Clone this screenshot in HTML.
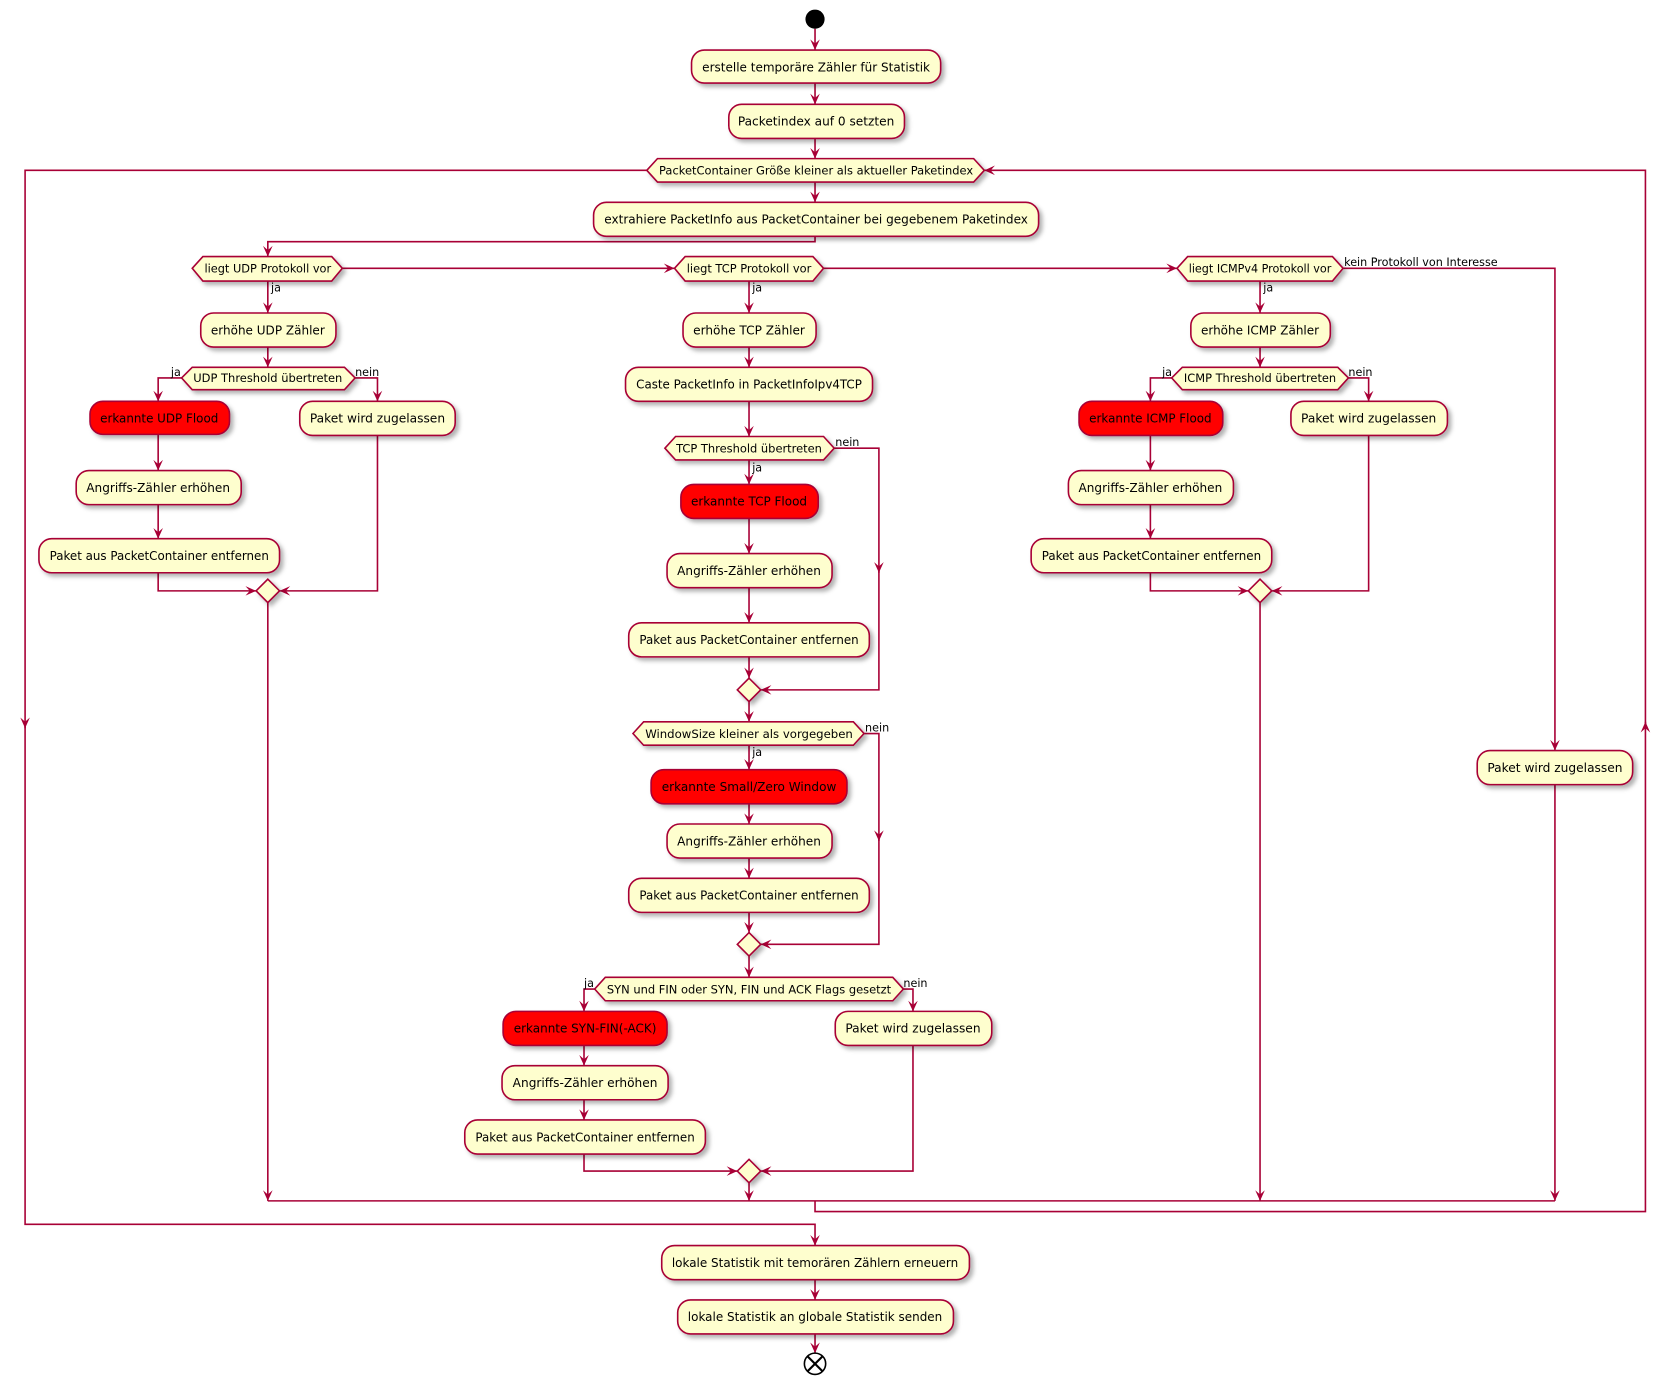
<!DOCTYPE html>
<html><head><meta charset="utf-8"><style>
html,body{margin:0;padding:0;background:#fff;}
svg{display:block;}
text{font-family:"DejaVu Sans","Liberation Sans",sans-serif;fill:#000;}
</style></head><body>
<svg width="1662" height="1384" viewBox="0 0 1560 1300" xmlns="http://www.w3.org/2000/svg">
<defs>
<marker id="a" markerUnits="userSpaceOnUse" markerWidth="12" markerHeight="10" viewBox="-11 -5 12 10" refX="0" refY="0" orient="auto">
<path d="M-10,-4.5 L0,0 L-10,4.5 L-6,0 Z" fill="#A80036"/></marker>
<filter id="s" x="-10%" y="-20%" width="130%" height="160%"><feDropShadow dx="3" dy="3" stdDeviation="2" flood-color="#000" flood-opacity="0.3"/></filter>
</defs>
<g fill="none" stroke="#A80036" stroke-width="1.5">
<!-- main flow -->
<path d="M765,27 V47" marker-end="url(#a)"/>
<path d="M765,78 V98" marker-end="url(#a)"/>
<path d="M765,130 V149" marker-end="url(#a)"/>
<path d="M765,171 V190" marker-end="url(#a)"/>
<path d="M765,222 V227 H251 V241" marker-end="url(#a)"/>
<path d="M321,252 H633" marker-end="url(#a)"/>
<path d="M773,252 H1105" marker-end="url(#a)"/>
<path d="M1261,252 H1460 V705" marker-end="url(#a)"/>
<path d="M1460,737 V1128" marker-end="url(#a)"/>
<!-- UDP -->
<path d="M251,264 V294" marker-end="url(#a)"/>
<path d="M251,326 V345" marker-end="url(#a)"/>
<path d="M170,355 H148 V377" marker-end="url(#a)"/>
<path d="M333,355 H354 V377" marker-end="url(#a)"/>
<path d="M148,408 V442" marker-end="url(#a)"/>
<path d="M148,474 V506" marker-end="url(#a)"/>
<path d="M148,538 V555 H240" marker-end="url(#a)"/>
<path d="M354,409 V555 H262" marker-end="url(#a)"/>
<path d="M251,566 V1128" marker-end="url(#a)"/>
<!-- TCP -->
<path d="M703,264 V294" marker-end="url(#a)"/>
<path d="M703,326 V345" marker-end="url(#a)"/>
<path d="M703,377 V410" marker-end="url(#a)"/>
<path d="M703,432 V455" marker-end="url(#a)"/>
<path d="M703,487 V520" marker-end="url(#a)"/>
<path d="M703,552 V585" marker-end="url(#a)"/>
<path d="M703,617 V637" marker-end="url(#a)"/>
<path d="M783,421 H825 V538" marker-end="url(#a)"/>
<path d="M825,536 V648 H714" marker-end="url(#a)"/>
<path d="M703,659 V678" marker-end="url(#a)"/>
<path d="M703,700 V723" marker-end="url(#a)"/>
<path d="M703,755 V774" marker-end="url(#a)"/>
<path d="M703,806 V825" marker-end="url(#a)"/>
<path d="M703,857 V876" marker-end="url(#a)"/>
<path d="M811,689 H825 V790" marker-end="url(#a)"/>
<path d="M825,788 V887 H714" marker-end="url(#a)"/>
<path d="M703,898 V918" marker-end="url(#a)"/>
<path d="M558,929 H548 V950" marker-end="url(#a)"/>
<path d="M848,929 H857 V950" marker-end="url(#a)"/>
<path d="M548,982 V1001" marker-end="url(#a)"/>
<path d="M548,1033 V1052" marker-end="url(#a)"/>
<path d="M548,1084 V1100 H692" marker-end="url(#a)"/>
<path d="M857,982 V1100 H714" marker-end="url(#a)"/>
<path d="M703,1111 V1128" marker-end="url(#a)"/>
<!-- ICMP -->
<path d="M1183,264 V294" marker-end="url(#a)"/>
<path d="M1183,326 V345" marker-end="url(#a)"/>
<path d="M1100,355 H1080 V377" marker-end="url(#a)"/>
<path d="M1266,355 H1285 V377" marker-end="url(#a)"/>
<path d="M1080,409 V442" marker-end="url(#a)"/>
<path d="M1080,474 V506" marker-end="url(#a)"/>
<path d="M1080,538 V555 H1172" marker-end="url(#a)"/>
<path d="M1285,409 V555 H1194" marker-end="url(#a)"/>
<path d="M1183,566 V1128" marker-end="url(#a)"/>
<!-- merge + loop -->
<path d="M251,1128 H1460"/>
<path d="M765,1128 V1138 H1545 V678" marker-end="url(#a)"/>
<path d="M1545,680 V160 H924" marker-end="url(#a)"/>
<path d="M607,160 H23 V684" marker-end="url(#a)"/>
<path d="M23,682 V1150 H765 V1170" marker-end="url(#a)"/>
<path d="M765,1202 V1221" marker-end="url(#a)"/>
<path d="M765,1253 V1271" marker-end="url(#a)"/>
</g>

<!-- start / end -->
<circle cx="765" cy="18" r="9" fill="#000"/>
<g stroke="#000" stroke-width="1.5"><circle cx="765" cy="1281" r="10" fill="#fff"/>
<path d="M758,1274 L772,1288 M772,1274 L758,1288" stroke-width="2"/></g>

<!-- boxes -->
<g stroke="#A80036" stroke-width="1.5" filter="url(#s)">
<rect x="649" y="47" width="234" height="31" rx="12" fill="#FEFECE"/>
<rect x="684" y="98" width="165" height="32" rx="12" fill="#FEFECE"/>
<rect x="557" y="190" width="418" height="32" rx="12" fill="#FEFECE"/>
<rect x="188" y="294" width="127" height="32" rx="12" fill="#FEFECE"/>
<rect x="84" y="377" width="131" height="31" rx="12" fill="#FF0000"/>
<rect x="281" y="377" width="146" height="32" rx="12" fill="#FEFECE"/>
<rect x="71" y="442" width="155" height="32" rx="12" fill="#FEFECE"/>
<rect x="36" y="506" width="226" height="32" rx="12" fill="#FEFECE"/>
<rect x="641" y="294" width="125" height="32" rx="12" fill="#FEFECE"/>
<rect x="587" y="345" width="232" height="32" rx="12" fill="#FEFECE"/>
<rect x="639" y="455" width="129" height="32" rx="12" fill="#FF0000"/>
<rect x="626" y="520" width="155" height="32" rx="12" fill="#FEFECE"/>
<rect x="590" y="585" width="226" height="32" rx="12" fill="#FEFECE"/>
<rect x="611" y="723" width="184" height="32" rx="12" fill="#FF0000"/>
<rect x="626" y="774" width="155" height="32" rx="12" fill="#FEFECE"/>
<rect x="590" y="825" width="226" height="32" rx="12" fill="#FEFECE"/>
<rect x="472" y="950" width="154" height="32" rx="12" fill="#FF0000"/>
<rect x="784" y="950" width="147" height="32" rx="12" fill="#FEFECE"/>
<rect x="471" y="1001" width="156" height="32" rx="12" fill="#FEFECE"/>
<rect x="436" y="1052" width="226" height="32" rx="12" fill="#FEFECE"/>
<rect x="1118" y="294" width="131" height="32" rx="12" fill="#FEFECE"/>
<rect x="1013" y="377" width="135" height="32" rx="12" fill="#FF0000"/>
<rect x="1212" y="377" width="147" height="32" rx="12" fill="#FEFECE"/>
<rect x="1003" y="442" width="155" height="32" rx="12" fill="#FEFECE"/>
<rect x="968" y="506" width="226" height="32" rx="12" fill="#FEFECE"/>
<rect x="1387" y="705" width="146" height="32" rx="12" fill="#FEFECE"/>
<rect x="621" y="1170" width="289" height="32" rx="12" fill="#FEFECE"/>
<rect x="636" y="1221" width="259" height="32" rx="12" fill="#FEFECE"/>
<!-- hexagons -->
<polygon points="607,160 617,149 914,149 924,160 914,171 617,171" fill="#FEFECE"/>
<polygon points="180,252 190,241 311,241 321,252 311,264 190,264" fill="#FEFECE"/>
<polygon points="633,252 643,241 763,241 773,252 763,264 643,264" fill="#FEFECE"/>
<polygon points="1105,252 1115,241 1251,241 1261,252 1251,264 1115,264" fill="#FEFECE"/>
<polygon points="170,355 180,345 323,345 333,355 323,366 180,366" fill="#FEFECE"/>
<polygon points="1100,355 1110,345 1256,345 1266,355 1256,366 1110,366" fill="#FEFECE"/>
<polygon points="624,421 634,410 773,410 783,421 773,432 634,432" fill="#FEFECE"/>
<polygon points="594,689 604,678 801,678 811,689 801,700 604,700" fill="#FEFECE"/>
<polygon points="558,929 568,918 838,918 848,929 838,940 568,940" fill="#FEFECE"/>
<!-- diamonds -->
<polygon points="251,544 262,555 251,566 240,555" fill="#FEFECE"/>
<polygon points="1183,544 1194,555 1183,566 1172,555" fill="#FEFECE"/>
<polygon points="703,637 714,648 703,659 692,648" fill="#FEFECE"/>
<polygon points="703,876 714,887 703,898 692,887" fill="#FEFECE"/>
<polygon points="703,1089 714,1100 703,1111 692,1100" fill="#FEFECE"/>
</g>

<!-- box texts -->
<g font-size="11.5" text-anchor="middle" lengthAdjust="spacingAndGlyphs">
<text x="766" y="67" textLength="214" lengthAdjust="spacingAndGlyphs">erstelle temporäre Zähler für Statistik</text>
<text x="766" y="118" textLength="147" lengthAdjust="spacingAndGlyphs">Packetindex auf 0 setzten</text>
<text x="766" y="210" textLength="398" lengthAdjust="spacingAndGlyphs">extrahiere PacketInfo aus PacketContainer bei gegebenem Paketindex</text>
<text x="251" y="314" textLength="107" lengthAdjust="spacingAndGlyphs">erhöhe UDP Zähler</text>
<text x="149" y="397" textLength="111" lengthAdjust="spacingAndGlyphs">erkannte UDP Flood</text>
<text x="354" y="397" textLength="127" lengthAdjust="spacingAndGlyphs">Paket wird zugelassen</text>
<text x="148" y="462" textLength="135" lengthAdjust="spacingAndGlyphs">Angriffs-Zähler erhöhen</text>
<text x="149" y="526" textLength="206" lengthAdjust="spacingAndGlyphs">Paket aus PacketContainer entfernen</text>
<text x="703" y="314" textLength="105" lengthAdjust="spacingAndGlyphs">erhöhe TCP Zähler</text>
<text x="703" y="365" textLength="212" lengthAdjust="spacingAndGlyphs">Caste PacketInfo in PacketInfoIpv4TCP</text>
<text x="703" y="475" textLength="109" lengthAdjust="spacingAndGlyphs">erkannte TCP Flood</text>
<text x="703" y="540" textLength="135" lengthAdjust="spacingAndGlyphs">Angriffs-Zähler erhöhen</text>
<text x="703" y="605" textLength="206" lengthAdjust="spacingAndGlyphs">Paket aus PacketContainer entfernen</text>
<text x="703" y="743" textLength="164" lengthAdjust="spacingAndGlyphs">erkannte Small/Zero Window</text>
<text x="703" y="794" textLength="135" lengthAdjust="spacingAndGlyphs">Angriffs-Zähler erhöhen</text>
<text x="703" y="845" textLength="206" lengthAdjust="spacingAndGlyphs">Paket aus PacketContainer entfernen</text>
<text x="549" y="970" textLength="134" lengthAdjust="spacingAndGlyphs">erkannte SYN-FIN(-ACK)</text>
<text x="857" y="970" textLength="127" lengthAdjust="spacingAndGlyphs">Paket wird zugelassen</text>
<text x="549" y="1021" textLength="136" lengthAdjust="spacingAndGlyphs">Angriffs-Zähler erhöhen</text>
<text x="549" y="1072" textLength="206" lengthAdjust="spacingAndGlyphs">Paket aus PacketContainer entfernen</text>
<text x="1183" y="314" textLength="111" lengthAdjust="spacingAndGlyphs">erhöhe ICMP Zähler</text>
<text x="1080" y="397" textLength="115" lengthAdjust="spacingAndGlyphs">erkannte ICMP Flood</text>
<text x="1285" y="397" textLength="127" lengthAdjust="spacingAndGlyphs">Paket wird zugelassen</text>
<text x="1080" y="462" textLength="135" lengthAdjust="spacingAndGlyphs">Angriffs-Zähler erhöhen</text>
<text x="1081" y="526" textLength="206" lengthAdjust="spacingAndGlyphs">Paket aus PacketContainer entfernen</text>
<text x="1460" y="725" textLength="127" lengthAdjust="spacingAndGlyphs">Paket wird zugelassen</text>
<text x="765" y="1190" textLength="269" lengthAdjust="spacingAndGlyphs">lokale Statistik mit temorären Zählern erneuern</text>
<text x="765" y="1241" textLength="239" lengthAdjust="spacingAndGlyphs">lokale Statistik an globale Statistik senden</text>
</g>
<!-- hex texts -->
<g font-size="10.5" text-anchor="middle">
<text x="766" y="164" textLength="295" lengthAdjust="spacingAndGlyphs">PacketContainer Größe kleiner als aktueller Paketindex</text>
<text x="251" y="256" textLength="119" lengthAdjust="spacingAndGlyphs">liegt UDP Protokoll vor</text>
<text x="703" y="256" textLength="117" lengthAdjust="spacingAndGlyphs">liegt TCP Protokoll vor</text>
<text x="1183" y="256" textLength="134" lengthAdjust="spacingAndGlyphs">liegt ICMPv4 Protokoll vor</text>
<text x="251" y="359" textLength="140" lengthAdjust="spacingAndGlyphs">UDP Threshold übertreten</text>
<text x="1183" y="359" textLength="143" lengthAdjust="spacingAndGlyphs">ICMP Threshold übertreten</text>
<text x="703" y="425" textLength="137" lengthAdjust="spacingAndGlyphs">TCP Threshold übertreten</text>
<text x="703" y="693" textLength="195" lengthAdjust="spacingAndGlyphs">WindowSize kleiner als vorgegeben</text>
<text x="703" y="933" textLength="267" lengthAdjust="spacingAndGlyphs">SYN und FIN oder SYN, FIN und ACK Flags gesetzt</text>
</g>
<!-- edge labels -->
<g font-size="10.5">
<text x="254" y="274">ja</text>
<text x="706" y="274">ja</text>
<text x="1186" y="274">ja</text>
<text x="1262" y="250">kein Protokoll von Interesse</text>
<text x="160" y="353">ja</text>
<text x="333" y="353">nein</text>
<text x="1091" y="353">ja</text>
<text x="1266" y="353">nein</text>
<text x="784" y="419">nein</text>
<text x="706" y="443">ja</text>
<text x="812" y="687">nein</text>
<text x="706" y="710">ja</text>
<text x="548" y="927">ja</text>
<text x="848" y="927">nein</text>
</g>
</svg>
</body></html>
